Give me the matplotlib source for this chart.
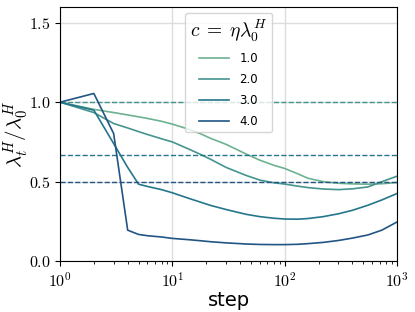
import numpy as np
import matplotlib
matplotlib.use('Agg')
import matplotlib.pyplot as plt
import seaborn as sns
from matplotlib.ticker import FuncFormatter, FixedLocator

plt.rcParams['mathtext.fontset'] = 'cm'

# valores
steps = [1, 2, 3, 4, 5, 6, 8, 10, 14, 18, 22, 30, 45, 60, 80, 100, 130, 160, 220, 300, 400, 550, 730, 1000]
c_vals = [1.0, 2.0, 3.0, 4.0]
ratio_c1 = [1.0, 0.955, 0.935, 0.92, 0.908, 0.898, 0.88, 0.862, 0.83, 0.80, 0.772, 0.735, 0.675, 0.635,
            0.603, 0.583, 0.55, 0.522, 0.50, 0.49, 0.486, 0.484, 0.487, 0.495]
ratio_c2 = [1.0, 0.935, 0.866, 0.838, 0.815, 0.797, 0.77, 0.75, 0.705, 0.67, 0.64, 0.59, 0.54, 0.51,
            0.493, 0.485, 0.472, 0.463, 0.454, 0.45, 0.455, 0.467, 0.5, 0.535]
ratio_c3 = [1.0, 0.95, 0.74, 0.59, 0.484, 0.47, 0.45, 0.43, 0.395, 0.37, 0.35, 0.325, 0.295, 0.28,
            0.27, 0.265, 0.264, 0.268, 0.28, 0.298, 0.32, 0.352, 0.385, 0.426]
ratio_c4 = [1.0, 1.055, 0.803, 0.195, 0.168, 0.16, 0.152, 0.143, 0.135, 0.128, 0.122, 0.115, 0.108, 0.105,
            0.104, 0.104, 0.106, 0.11, 0.118, 0.13, 0.145, 0.165, 0.195, 0.247]
ratios = [ratio_c1, ratio_c2, ratio_c3, ratio_c4]

cores = sns.color_palette('crest', 4)

fig = plt.figure(figsize=(4.15, 3.12), dpi=100)
ax = fig.add_axes([0.1446, 0.163, 0.8125, 0.815])

for c, r, cor in zip(c_vals, ratios, cores):
    ax.plot(steps, r, color=cor, lw=1.2, label=f'{c:.1f}')
    # linha limite 2/c
    ax.axhline(2 / c, color=cor, lw=1.0, ls='--')

ax.set_xscale('log')
ax.set_xlim(1, 1000)
ax.set_ylim(0, 1.6)
ax.yaxis.set_major_locator(FixedLocator([0, 0.5, 1.0, 1.5]))
ax.yaxis.set_major_formatter(FuncFormatter(lambda v, p: r'$%.1f$' % v))
ax.xaxis.set_major_formatter(FuncFormatter(lambda v, p: r'$10^{%d}$' % round(np.log10(v))))
ax.tick_params(labelsize=11.5)
ax.grid(True, color='#dddddd', lw=1.0)
ax.set_axisbelow(True)

ax.set_xlabel('step', fontsize=14, labelpad=1)
# rotulo do eixo y colocado a mao para nao sair da figura
fig.text(0.040, 0.57, r'$\lambda_t^H/\lambda_0^H$', fontsize=15, rotation=90,
         ha='center', va='center')

leg = ax.legend(title=r'$c\;=\;\eta\lambda_0^H$', loc='upper center', fontsize=8.5,
                title_fontsize=14, handlelength=2.5, labelspacing=0.68, handletextpad=0.9)

fig.savefig('out.png')
